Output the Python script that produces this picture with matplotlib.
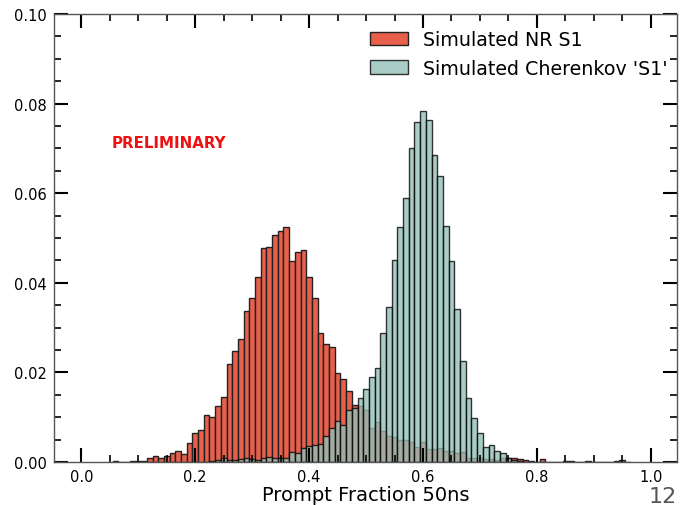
import matplotlib
matplotlib.use("Agg")
import matplotlib.pyplot as plt
from matplotlib.ticker import MultipleLocator, FormatStrFormatter
import numpy as np

# bin centres (width 0.01) and normalised heights
nr_centers = [0.06, 0.07, 0.08, 0.09, 0.10, 0.11, 0.12, 0.13, 0.14, 0.15,
              0.16, 0.17, 0.18, 0.19, 0.20, 0.21, 0.22, 0.23, 0.24, 0.25,
              0.26, 0.27, 0.28, 0.29, 0.30, 0.31, 0.32, 0.33, 0.34, 0.35,
              0.36, 0.37, 0.38, 0.39, 0.40, 0.41, 0.42, 0.43, 0.44, 0.45,
              0.46, 0.47, 0.48, 0.49, 0.50, 0.51, 0.52, 0.53, 0.54, 0.55,
              0.56, 0.57, 0.58, 0.59, 0.60, 0.61, 0.62, 0.63, 0.64, 0.65,
              0.66, 0.67, 0.68, 0.69, 0.70, 0.71, 0.72, 0.73, 0.74, 0.75,
              0.76, 0.77, 0.78, 0.79, 0.80, 0.81, 0.82, 0.83, 0.84, 0.85,
              0.86, 0.87, 0.88, 0.89, 0.90, 0.91, 0.92, 0.93, 0.94, 0.95,
              0.96]
nr_s1 = [0.0002, 0.0001, 0.0001, 0.0002, 0.0003, 0.0002, 0.0010, 0.0013, 0.0010, 0.0014,
         0.0019, 0.0025, 0.0017, 0.0043, 0.0064, 0.0072, 0.0104, 0.0100, 0.0124, 0.0144,
         0.0218, 0.0248, 0.0274, 0.0338, 0.0367, 0.0412, 0.0477, 0.0479, 0.0506, 0.0515,
         0.0524, 0.0448, 0.0469, 0.0473, 0.0412, 0.0367, 0.0288, 0.0263, 0.0257, 0.0198,
         0.0186, 0.0158, 0.0128, 0.0126, 0.0115, 0.0077, 0.0090, 0.0070, 0.0059, 0.0056,
         0.0049, 0.0048, 0.0044, 0.0033, 0.0044, 0.0029, 0.0029, 0.0031, 0.0025, 0.0024,
         0.0020, 0.0023, 0.0010, 0.0010, 0.0010, 0.0006, 0.0006, 0.0005, 0.0008, 0.0010,
         0.0010, 0.0007, 0.0004, 0.0002, 0.0001, 0.0007, 0.0001, 0.0001, 0.0001, 0.0002,
         0.0002, 0.0001, 0.0001, 0.0002, 0.0, 0.0, 0.0, 0.0001, 0.0002, 0.0004,
         0.0001]

ch_centers = [0.23, 0.24, 0.25, 0.26, 0.27, 0.28, 0.29, 0.30, 0.31, 0.32,
              0.33, 0.34, 0.35, 0.36, 0.37, 0.38, 0.39, 0.40, 0.41, 0.42,
              0.43, 0.44, 0.45, 0.46, 0.47, 0.48, 0.49, 0.50, 0.51, 0.52,
              0.53, 0.54, 0.55, 0.56, 0.57, 0.58, 0.59, 0.60, 0.61, 0.62,
              0.63, 0.64, 0.65, 0.66, 0.67, 0.68, 0.69, 0.70, 0.71, 0.72,
              0.73, 0.74, 0.75, 0.76, 0.77]
ch_s1 = [0.0002, 0.0004, 0.0008, 0.0005, 0.0004, 0.0006, 0.0009, 0.0006, 0.0005, 0.0008,
         0.0012, 0.0010, 0.0010, 0.0009, 0.0022, 0.0021, 0.0031, 0.0036, 0.0038, 0.0041,
         0.0059, 0.0075, 0.0091, 0.0083, 0.0117, 0.0121, 0.0142, 0.0162, 0.0190, 0.0209,
         0.0289, 0.0346, 0.0450, 0.0524, 0.0589, 0.0700, 0.0760, 0.0784, 0.0764, 0.0685,
         0.0638, 0.0527, 0.0448, 0.0342, 0.0225, 0.0142, 0.0098, 0.0065, 0.0033, 0.0039,
         0.0024, 0.0020, 0.0010, 0.0005, 0.0002]

fig = plt.figure(figsize=(6.81, 5.06), dpi=100)
ax = fig.add_axes([54/681, 43/506, 623/681, 448/506])

ax.bar(nr_centers, nr_s1, width=0.01, color='#e8604c', edgecolor='#222222',
       linewidth=1, label='Simulated NR S1')
ax.bar(ch_centers, ch_s1, width=0.01, color='#92beb6', edgecolor='black',
       linewidth=1, alpha=0.78, label="Simulated Cherenkov 'S1'")

ax.set_xlim(-0.048, 1.046)
ax.set_ylim(0, 0.10)
ax.xaxis.set_major_locator(MultipleLocator(0.2))
ax.xaxis.set_minor_locator(MultipleLocator(0.05))
ax.yaxis.set_major_locator(MultipleLocator(0.02))
ax.yaxis.set_minor_locator(MultipleLocator(0.005))
ax.xaxis.set_major_formatter(FormatStrFormatter('%.1f'))
ax.yaxis.set_major_formatter(FormatStrFormatter('%.2f'))
ax.tick_params(which='both', direction='in', top=True, right=True, labelsize=10.5)
ax.tick_params(which='major', length=10, width=1.5, pad=5)
ax.tick_params(which='minor', length=5, width=1.2)
for s in ax.spines.values():
    s.set_color('#555555')
    s.set_linewidth(1)

ax.set_xlabel('Prompt Fraction 50ns', fontsize=14, labelpad=1)
ax.text(0.054, 0.0714, 'PRELIMINARY', color='#ee1111', fontsize=10.8,
        fontweight='bold', ha='left', va='center')
ax.legend(loc='upper right', frameon=False, fontsize=13.7, handlelength=2.0,
          handletextpad=0.8, borderaxespad=0.45, bbox_to_anchor=(1.011, 1.0))

fig.text(649/681, 1 - 503/506, '12', fontsize=16, color='#555555',
         ha='left', va='baseline')

fig.savefig('out.png', dpi=100)
